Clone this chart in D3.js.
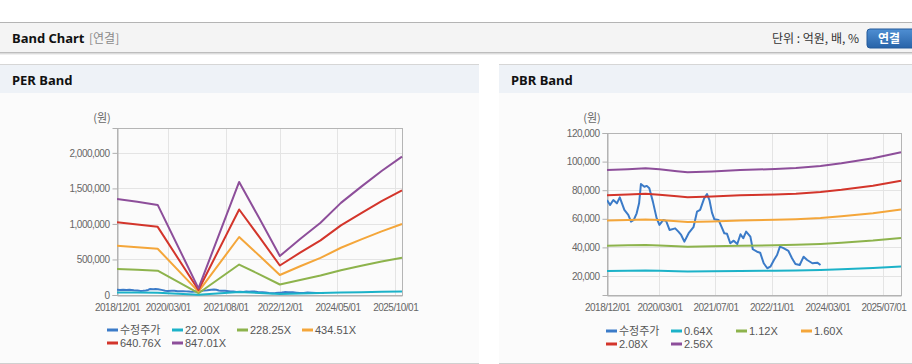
<!DOCTYPE html>
<html><head><meta charset="utf-8">
<script src="https://cdn.jsdelivr.net/npm/d3@7"></script>
<style>
html,body{margin:0;padding:0;background:#fff;}
svg{display:block;font-family:"Liberation Sans",Arial,"Noto Sans CJK KR",sans-serif;}
</style></head><body>
<svg id="c" width="912" height="364"></svg>
<script>
// ---------- data ----------
const xDomain = ["2018-12-01", "2025-12-01"];

const perXTicks = ["2018-12-01","2020-03-01","2021-08-01","2022-12-01","2024-05-01","2025-10-01"];
const pbrXTicks = ["2018-12-01","2020-03-01","2021-07-01","2022-11-01","2024-03-01","2025-07-01"];
const perYTicks = [0, 500000, 1000000, 1500000, 2000000];
const pbrYTicks = [20000, 40000, 60000, 80000, 100000, 120000];

const perLegend = ["수정주가","22.00X","228.25X","434.51X","640.76X","847.01X"];
const pbrLegend = ["수정주가","0.64X","1.12X","1.60X","2.08X","2.56X"];

// adjusted price (수정주가)
const priceDates = ["2018-12-01","2018-12-28","2019-01-25","2019-02-25","2019-03-22","2019-05-01","2019-06-04","2019-06-28","2019-07-22","2019-08-16","2019-09-06","2019-09-22","2019-10-22","2019-11-12","2019-12-04","2020-01-04","2020-02-06","2020-03-01","2020-04-04","2020-04-28","2020-05-28","2020-07-16","2020-08-13","2020-09-06","2020-10-04","2020-11-10","2020-12-22","2021-01-22","2021-02-18","2021-03-25","2021-04-19","2021-05-10","2021-06-01","2021-06-22","2021-07-28","2021-08-28","2021-09-16","2021-10-10","2021-11-07","2021-12-07","2022-01-07","2022-02-04","2022-02-28","2022-03-25","2022-05-01","2022-05-22","2022-06-28","2022-07-25","2022-08-25","2022-09-25","2022-10-22","2022-11-22","2022-12-19","2023-01-13","2023-02-13","2023-03-28","2023-04-28","2023-05-28","2023-07-04","2023-08-07","2023-09-07","2023-10-22","2023-12-04","2024-01-01"];
const priceValues = [73100,69700,73100,70800,75000,66200,62700,58000,59200,63800,70800,84300,82400,83000,81300,72000,60300,55700,59200,58500,52200,53300,51000,48700,44000,49900,54100,65000,66200,74300,77300,73100,64300,59600,59200,53400,49900,49500,42900,44700,42400,49200,46400,51000,47500,38700,37000,36300,28900,25400,26500,31200,34700,40500,39500,37500,32400,28400,27700,33500,31200,28900,29300,27700];

// PER bands
const perDates = ["2018-12-01","2019-06-01","2019-12-01","2020-12-01","2021-12-01","2022-06-01","2022-12-01","2023-06-01","2023-12-01","2024-06-01","2024-12-01","2025-06-01","2025-12-01"];
const per22  = [35110,34100,32930,2420,41320,27940,14260,20460,26400,33660,39600,45320,50600];
const per228 = [364290,353790,341690,25110,428650,289880,147910,212270,273900,349220,410850,470200,524980];
const per434 = [693480,673490,650460,47800,816010,551830,281560,404090,521410,664800,782120,895090,999370];
const per640 = [1022650,993180,959220,70480,1203350,813770,415210,595910,768910,980360,1153370,1319970,1473750];
const per847 = [1351830,1312870,1267970,93170,1590690,1075700,548860,787720,1016410,1295930,1524620,1744840,1948120];

// PBR bands
const pbrDates = ["2018-12-01","2019-06-01","2019-11-01","2020-03-01","2020-08-01","2020-11-01","2021-06-01","2022-02-01","2022-12-01","2023-06-01","2024-01-01","2024-07-01","2025-04-01","2025-12-01"];
const pbr064 = [23530,23680,23830,23650,23300,23120,23280,23530,23700,23870,24220,24700,25570,26620];
const pbr112 = [41170,41440,41700,41380,40770,40470,40730,41170,41470,41780,42390,43220,44750,46590];
const pbr160 = [58820,59200,59570,59120,58240,57810,58190,58820,59250,59680,60560,61740,63940,66560];
const pbr208 = [76460,76960,77440,76860,75710,75150,75650,76460,77020,77580,78730,80270,83120,86530];
const pbr256 = [94110,94720,95310,94590,93180,92490,93110,94110,94800,95490,96900,98790,102300,106500];

// ---------- styles ----------
const seriesColors = ["#3b7bc8","#1cb2c8","#8db34c","#f4a63a","#d3352b","#8d4e9a"];

const parse = d3.timeParse("%Y-%m-%d");
const svg = d3.select("#c");

// ---------- page chrome ----------
svg.append("rect").attr("x",0).attr("y",0).attr("width",912).attr("height",364).attr("fill","#fff");
svg.append("rect").attr("x",0).attr("y",22).attr("width",912).attr("height",1).attr("fill","#b4b4b4");
svg.append("rect").attr("x",0).attr("y",23).attr("width",912).attr("height",29).attr("fill","#f4f4f4");
svg.append("rect").attr("x",0).attr("y",52).attr("width",912).attr("height",1).attr("fill","#bdbdbd");
svg.append("rect").attr("x",0).attr("y",53).attr("width",912).attr("height",1).attr("fill","#dcdcdc");
svg.append("rect").attr("x",0).attr("y",54).attr("width",912).attr("height",1).attr("fill","#f0f0f0");

svg.append("text").attr("x",12).attr("y",43).attr("font-family","'Noto Sans','Open Sans',sans-serif")
  .attr("font-weight","bold").attr("font-size",13).attr("fill","#111").text("Band Chart");
svg.append("text").attr("x",89).attr("y",43).attr("font-family","'Noto Sans CJK KR',sans-serif")
  .attr("font-size",12).attr("fill","#8a8a8a").text("[연결]");
svg.append("text").attr("x",859).attr("y",43).attr("text-anchor","end").attr("font-family","'Noto Sans CJK KR',sans-serif")
  .attr("font-size",12).attr("fill","#333").text("단위 : 억원, 배, %");

const defs = svg.append("defs");
const grad = defs.append("linearGradient").attr("id","btn").attr("x1",0).attr("y1",0).attr("x2",0).attr("y2",1);
grad.append("stop").attr("offset","0%").attr("stop-color","#4f8fd3");
grad.append("stop").attr("offset","100%").attr("stop-color","#2863a8");
svg.append("rect").attr("x",867).attr("y",29).attr("width",52).attr("height",19).attr("rx",3)
  .attr("fill","url(#btn)").attr("stroke","#245a9a");
svg.append("text").attr("x",889).attr("y",43).attr("text-anchor","middle").attr("font-family","'Noto Sans CJK KR',sans-serif")
  .attr("font-weight","bold").attr("font-size",12).attr("fill","#fff").text("연결");

function panel(x0, w, title){
  svg.append("rect").attr("x",x0).attr("y",64).attr("width",w).attr("height",1).attr("fill","#d6d6d6");
  svg.append("rect").attr("x",x0).attr("y",65).attr("width",w).attr("height",28).attr("fill","#eef2f7");
  svg.append("rect").attr("x",x0).attr("y",93).attr("width",w).attr("height",270).attr("fill","#fbfbfb");
  svg.append("rect").attr("x",x0).attr("y",363).attr("width",w).attr("height",1).attr("fill","#d0d0d0");
  svg.append("text").attr("x",x0+12).attr("y",85).attr("font-family","'Noto Sans','Open Sans',sans-serif")
    .attr("font-weight","bold").attr("font-size",13).attr("fill","#111").text(title);
}
panel(0, 479, "PER Band");
panel(499, 413, "PBR Band");

// ---------- chart ----------
function drawChart(cfg){
  const g = svg.append("g");
  const x = d3.scaleTime().domain(xDomain.map(parse)).range([cfg.left, cfg.right]);
  const y = d3.scaleLinear().domain(cfg.yDomain).range([cfg.bottom, cfg.top]);

  // grid
  g.append("g").selectAll("line").data(cfg.yTicks.filter(d=>d>cfg.yDomain[0])).join("line")
    .attr("x1",cfg.left).attr("x2",cfg.right)
    .attr("y1",d=>Math.round(y(d))+0.5).attr("y2",d=>Math.round(y(d))+0.5)
    .attr("stroke","#e4e4e4");
  g.append("g").selectAll("line").data(cfg.xTicks.map(parse)).join("line")
    .attr("x1",d=>Math.round(x(d))+0.5).attr("x2",d=>Math.round(x(d))+0.5)
    .attr("y1",cfg.top).attr("y2",cfg.bottom)
    .attr("stroke","#e4e4e4");

  // border
  g.append("rect").attr("x",cfg.left+0.5).attr("y",cfg.top+0.5)
    .attr("width",cfg.right-cfg.left).attr("height",cfg.bottom-cfg.top)
    .attr("fill","none").attr("stroke","#b5b5b5");

  // axes
  const yAxis = d3.axisLeft(y).tickValues(cfg.yTicks).tickSize(5).tickPadding(3).tickFormat(d3.format(","));
  const ya = g.append("g").attr("transform",`translate(${cfg.left+0.5},0)`).call(yAxis);
  ya.select(".domain").attr("stroke","#b0b0b0");
  ya.selectAll(".tick line").attr("stroke","#b0b0b0");
  ya.selectAll(".tick text").attr("fill","#666").attr("font-size",10).attr("letter-spacing","-0.5px")
    .attr("font-family","'Liberation Sans',Arial,sans-serif");

  const xAxis = d3.axisBottom(x).tickValues(cfg.xTicks.map(parse)).tickSize(0).tickPadding(8)
    .tickFormat(d3.timeFormat("%Y/%m/%d"));
  const xa = g.append("g").attr("transform",`translate(0,${cfg.bottom+0.5})`).call(xAxis);
  xa.select(".domain").attr("stroke","#b0b0b0");
  xa.selectAll(".tick text").attr("fill","#666").attr("font-size",10).attr("letter-spacing","-0.5px")
    .attr("font-family","'Liberation Sans',Arial,sans-serif");

  // unit label
  g.append("text").attr("x",cfg.left-15).attr("y",cfg.unitY).attr("text-anchor","middle")
    .attr("font-family","'Noto Sans CJK KR',sans-serif").attr("font-size",11).attr("fill","#666").text("(원)");

  // series
  const clipId = "clip"+cfg.id;
  defs.append("clipPath").attr("id",clipId).append("rect")
    .attr("x",cfg.left).attr("y",cfg.top).attr("width",cfg.right-cfg.left+1).attr("height",cfg.bottom-cfg.top+1);
  const line = d3.line().x(d=>x(d[0])).y(d=>y(d[1]));
  const lg = g.append("g").attr("clip-path",`url(#${clipId})`);
  cfg.series.forEach((s,i)=>{
    const pts = s.dates.map((d,j)=>[parse(d), s.values[j]]);
    lg.append("path").datum(pts).attr("d",line).attr("fill","none")
      .attr("stroke",seriesColors[i]).attr("stroke-width",2).attr("stroke-linejoin","round");
  });

  // legend
  const leg = g.append("g");
  cfg.legend.forEach((name,i)=>{
    const col = i%4, row = Math.floor(i/4);
    const lx = cfg.legendX + col*65, ly = cfg.legendY + row*13;
    leg.append("line").attr("x1",lx).attr("x2",lx+11).attr("y1",ly).attr("y2",ly)
      .attr("stroke",seriesColors[i]).attr("stroke-width",3);
    leg.append("text").attr("x",lx+13).attr("y",ly+4).attr("font-size",11).attr("fill","#555")
      .attr("font-family","'Liberation Sans',Arial,'Noto Sans CJK KR',sans-serif").text(name);
  });
}

drawChart({
  id:"per", left:117, right:402, top:128, bottom:295,
  yDomain:[0, 2350000], yTicks:perYTicks, xTicks:perXTicks, unitY:122,
  legend:perLegend, legendX:107, legendY:330,
  series:[
    {dates:priceDates, values:priceValues},
    {dates:perDates, values:per22},
    {dates:perDates, values:per228},
    {dates:perDates, values:per434},
    {dates:perDates, values:per640},
    {dates:perDates, values:per847}
  ]
});

drawChart({
  id:"pbr", left:607, right:901, top:133, bottom:295,
  yDomain:[6700, 120000], yTicks:pbrYTicks, xTicks:pbrXTicks, unitY:122,
  legend:pbrLegend, legendX:606, legendY:331,
  series:[
    {dates:priceDates, values:priceValues},
    {dates:pbrDates, values:pbr064},
    {dates:pbrDates, values:pbr112},
    {dates:pbrDates, values:pbr160},
    {dates:pbrDates, values:pbr208},
    {dates:pbrDates, values:pbr256}
  ]
});
</script>
</body></html>
